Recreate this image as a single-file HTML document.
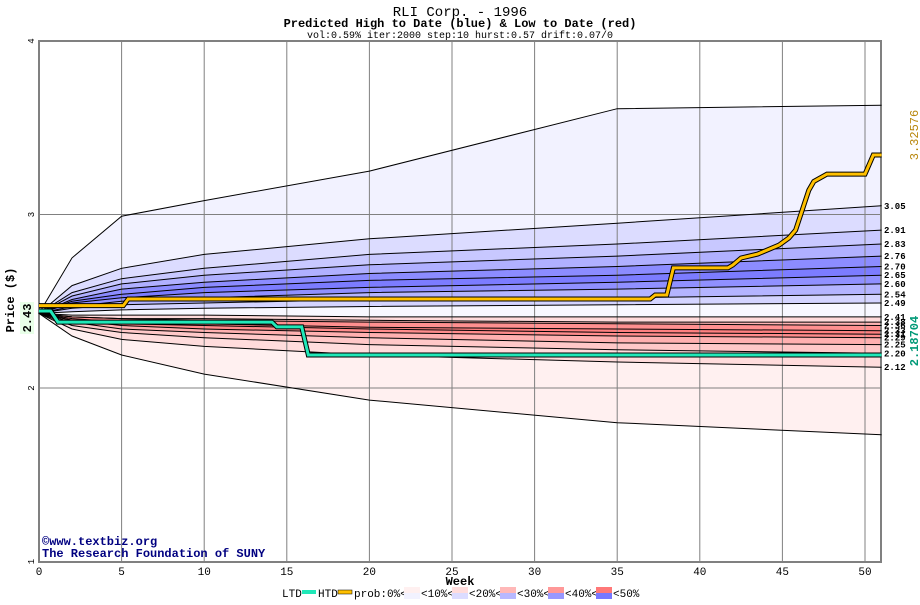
<!DOCTYPE html>
<html><head><meta charset="utf-8"><style>
body{margin:0;background:#fff;}
svg text{font-family:"Liberation Mono","DejaVu Sans Mono",monospace;}
</style></head><body>
<svg id="c" width="920" height="600" xmlns="http://www.w3.org/2000/svg">
<text x="460" y="16" text-anchor="middle" font-size="14">RLI Corp. - 1996</text>
<text x="460" y="27" text-anchor="middle" font-size="12" font-weight="bold">Predicted High to Date (blue) &amp;  Low to Date (red)</text>
<text x="460" y="38" text-anchor="middle" font-size="10">vol:0.59% iter:2000 step:10 hurst:0.57 drift:0.07/0</text>
<g id="bands"></g><g id="grid"></g><g id="curves"></g><g id="lines"></g><g id="labels"></g>
<text x="14" y="300" transform="rotate(-90 14 300)" text-anchor="middle" font-size="12" font-weight="bold">Price ($)</text>
<rect x="20" y="302" width="14" height="32" fill="#e8ffe8"/>
<text x="31" y="318" transform="rotate(-90 31 318)" text-anchor="middle" font-size="12" font-weight="bold" fill="#000">2.43</text>
<text x="918" y="135" transform="rotate(-90 918 135)" text-anchor="middle" font-size="12" fill="#b8860b">3.32576</text>
<text x="918" y="341" transform="rotate(-90 918 341)" text-anchor="middle" font-size="12" font-weight="bold" fill="#009977">2.18704</text>
<text x="460" y="585" text-anchor="middle" font-size="12" font-weight="bold">Week</text>
<text x="42" y="545" font-size="12" font-weight="bold" fill="#000080">©www.textbiz.org</text>
<text x="42" y="557" font-size="12" font-weight="bold" fill="#000080">The Research Foundation of SUNY</text>
<g id="legend"></g>
</svg>
<script>
const weeks=[0,2,5,10,20,35,51];
const upperCurves=[
[2.43,2.75,2.99,3.08,3.25,3.61,3.63],
[2.43,2.59,2.69,2.77,2.86,2.95,3.05],
[2.43,2.55,2.63,2.69,2.77,2.83,2.91],
[2.43,2.53,2.60,2.65,2.71,2.76,2.83],
[2.43,2.51,2.57,2.61,2.66,2.70,2.76],
[2.43,2.50,2.54,2.58,2.62,2.65,2.70],
[2.43,2.49,2.52,2.55,2.58,2.61,2.65],
[2.43,2.47,2.50,2.52,2.55,2.57,2.60],
[2.43,2.46,2.48,2.49,2.51,2.52,2.54],
[2.43,2.44,2.45,2.46,2.47,2.48,2.49]];
const lowerCurves=[
[2.43,2.42,2.42,2.42,2.41,2.41,2.41],
[2.43,2.41,2.40,2.40,2.39,2.38,2.38],
[2.43,2.41,2.40,2.39,2.38,2.37,2.36],
[2.43,2.40,2.38,2.37,2.35,2.34,2.33],
[2.43,2.39,2.37,2.36,2.34,2.32,2.31],
[2.43,2.39,2.36,2.34,2.32,2.30,2.29],
[2.43,2.38,2.34,2.32,2.29,2.26,2.25],
[2.43,2.36,2.32,2.29,2.25,2.22,2.20],
[2.43,2.34,2.28,2.24,2.19,2.15,2.12],
[2.43,2.30,2.19,2.08,1.93,1.80,1.73]];
const endLabels=["3.05","2.91","2.83","2.76","2.70","2.65","2.60","2.54","2.49","2.41","2.38","2.36","2.33","2.31","2.29","2.25","2.20","2.12"];
const upperColors=["#f2f2ff","#dcdcff","#c8c8ff","#b0b0ff","#8c8cff","#7c7cff","#9090ff","#b4b4ff","#d4d4ff"];
const lowerColors=["#ffdada","#ffb4b4","#ff9090","#ff8080","#ff8c8c","#ffb0b0","#ffc8c8","#ffdcdc","#fff0f0"];
const htdWeeks=[0,5.1,5.4,37.0,37.3,38.0,38.4,41.7,42.0,42.5,43.5,44.8,45.4,45.8,46.6,46.9,47.7,50.0,50.5,51];
const htdVals=[2.475,2.475,2.513,2.513,2.536,2.536,2.692,2.692,2.709,2.749,2.772,2.824,2.865,2.91,3.14,3.19,3.233,3.233,3.343,3.343];
const ltdWeeks=[0,0.7,1.15,14.1,14.4,15.9,16.3,51];
const ltdVals=[2.444,2.444,2.38,2.38,2.352,2.352,2.19,2.19];
const xTicks=[0,5,10,15,20,25,30,35,40,45,50];
const yTicks=[1,2,3,4];

const X0=39,X1=881,YT=41,YB=562;
const xs=w=>X0+w*16.52;
const ys=v=>YT+(4-v)*173.5;
const NS="http://www.w3.org/2000/svg";
function mk(tag,parent,attrs){const e=document.createElementNS(NS,tag);for(const k in attrs)e.setAttribute(k,attrs[k]);parent.appendChild(e);return e;}
const g=id=>document.getElementById(id);
const pts=c=>c.map((v,i)=>xs(weeks[i]).toFixed(1)+","+ys(v).toFixed(1));
mk('rect',g('bands'),{x:X0,y:YT,width:X1-X0,height:YB-YT,fill:'#fff'});
function band(a,b,col,name){
  const p=pts(a).concat(pts(b).reverse()).join(" ");
  const e=mk('polygon',g('bands'),{points:p,fill:col});
  
  
}
for(let i=0;i<upperCurves.length-1;i++)band(upperCurves[i],upperCurves[i+1],upperColors[i],'upper-band-'+i);
band(upperCurves[upperCurves.length-1],lowerCurves[0],'#f8f8ff','center-band');
for(let i=0;i<lowerCurves.length-1;i++)band(lowerCurves[i],lowerCurves[i+1],lowerColors[i],'lower-band-'+i);
xTicks.forEach(w=>{
  const l=mk('line',g('grid'),{x1:xs(w),x2:xs(w),y1:YT,y2:YB,stroke:'#808080','stroke-width':1});
  
  
  const t=mk('text',g('grid'),{x:xs(w),y:YB+13,'text-anchor':'middle','font-size':11});
  t.textContent=w;
  
  
});
yTicks.forEach(v=>{
  const l=mk('line',g('grid'),{x1:X0,x2:X1,y1:ys(v),y2:ys(v),stroke:'#808080','stroke-width':1});
  
  
  const t=mk('text',g('grid'),{x:34,y:ys(v),'text-anchor':'middle','font-size':9,transform:`rotate(-90 34 ${ys(v)})`});
  t.textContent=v;
  
  
});
mk('rect',g('grid'),{x:X0,y:YT,width:X1-X0,height:YB-YT,fill:'none',stroke:'#808080','stroke-width':2});
upperCurves.concat(lowerCurves).forEach((c,i)=>{
  const e=mk('polyline',g('curves'),{points:pts(c).join(" "),fill:'none',stroke:'#000','stroke-width':1});
  
  
});
const inner=upperCurves.slice(1).concat(lowerCurves.slice(0,-1));
inner.forEach((c,i)=>{
  const t=mk('text',g('labels'),{x:884,y:ys(c[c.length-1])+3,'font-size':9,'font-weight':'bold'});
  t.textContent=endLabels[i];
  
  
});
function step(W,V,col,name){
  const p=W.map((w,i)=>xs(w).toFixed(1)+","+ys(V[i]).toFixed(1)).join(" ");
  mk('polyline',g('lines'),{points:p,fill:'none',stroke:'#000','stroke-width':5});
  const e=mk('polyline',g('lines'),{points:p,fill:'none',stroke:col,'stroke-width':3});
  
  
}
step(ltdWeeks,ltdVals,'#20e8b8','ltd-line');
step(htdWeeks,htdVals,'#ffc000','htd-line');
const L=g('legend');
let t=mk('text',L,{x:282,y:597,'font-size':11});t.textContent='LTD';
mk('rect',L,{x:302,y:590,width:14,height:4,fill:'#20e8b8'});
t=mk('text',L,{x:318,y:597,'font-size':11});t.textContent='HTD';
mk('rect',L,{x:338,y:590,width:14,height:4,fill:'#ffc000',stroke:'#000','stroke-width':0.5});
t=mk('text',L,{x:354,y:597,'font-size':11});t.textContent='prob:0%<';
const lg=[["#fff0f0","#f2f2ff","<10%<"],["#ffdcdc","#dcdcff","<20%<"],["#ffb8b8","#b8b8ff","<30%<"],["#ff9898","#9898ff","<40%<"],["#ff7878","#7878ff","<50%"]];
lg.forEach((d,i)=>{
  const x=404+i*48;
  mk('rect',L,{x:x,y:587,width:16,height:6,fill:d[0]});
  mk('rect',L,{x:x,y:593,width:16,height:6,fill:d[1]});
  const tt=mk('text',L,{x:x+17,y:597,'font-size':11});tt.textContent=d[2];
});
</script>
</body></html>
